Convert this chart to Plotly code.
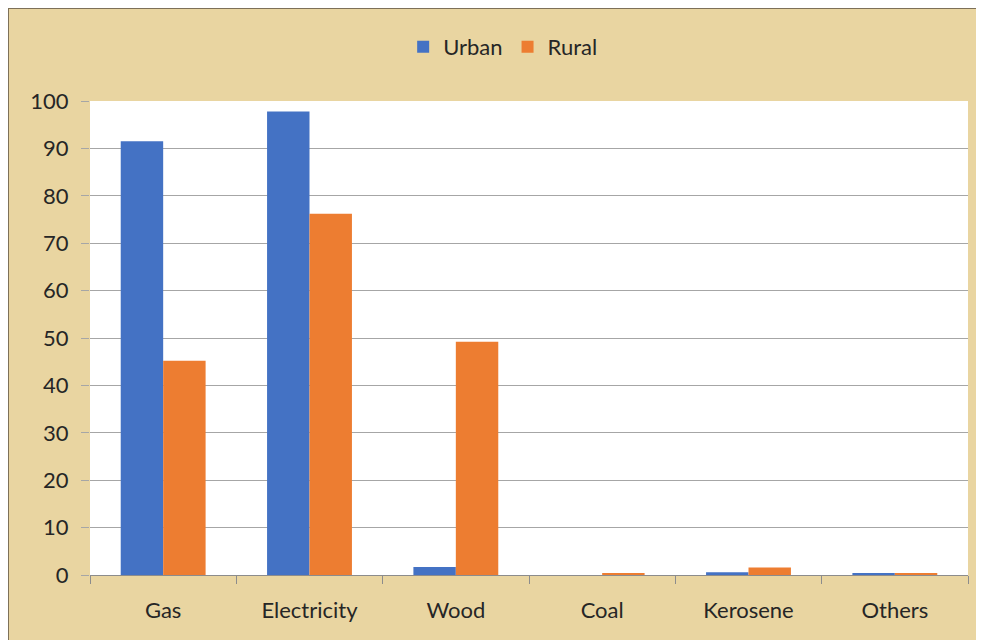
import plotly.graph_objects as go

categories = ['Gas', 'Electricity', 'Wood', 'Coal', 'Kerosene', 'Others']
urban = [91.5, 97.8, 1.7, 0.0, 0.6, 0.3]
rural = [45.2, 76.2, 49.2, 0.3, 1.6, 0.3]

FONT = dict(family='Lato, Open Sans, sans-serif', size=22, color='#262626')

fig = go.Figure()

fig.add_trace(go.Bar(
    name='Urban',
    x=categories,
    y=urban,
    marker_color='#4472C4',
    marker_line_width=0
))

fig.add_trace(go.Bar(
    name='Rural',
    x=categories,
    y=rural,
    marker_color='#ED7D31',
    marker_line_width=0
))

# thin frame along top and left edge of the card
fig.add_shape(type='line', xref='paper', yref='paper',
              x0=-0.0934, x1=1.03, y0=1.196, y1=1.196,
              line=dict(color='#7d7058', width=2))
fig.add_shape(type='line', xref='paper', yref='paper',
              x0=-0.0934, x1=-0.0934, y0=-0.16, y1=1.196,
              line=dict(color='#7d7058', width=2))

fig.update_layout(
    width=984,
    height=640,
    barmode='group',
    bargap=0.42,
    bargroupgap=0,
    paper_bgcolor='#e9d5a1',
    plot_bgcolor='white',
    font=FONT,
    margin=dict(l=82, r=24, t=93, b=73, autoexpand=False),
    showlegend=True,
    legend=dict(
        orientation='h',
        x=0.47, xanchor='center',
        y=1.114, yanchor='middle',
        bgcolor='rgba(0,0,0,0)',
        font=FONT,
        itemwidth=30
    ),
    xaxis=dict(
        showline=True,
        linecolor='#8c8c8c',
        linewidth=1,
        ticks='outside',
        tickson='boundaries',
        ticklen=8,
        tickcolor='#8c8c8c',
        showgrid=False,
        tickfont=FONT,
        ticklabelstandoff=16
    ),
    yaxis=dict(
        range=[0, 100],
        dtick=10,
        showgrid=True,
        gridcolor='#a6a6a6',
        gridwidth=1,
        ticks='outside',
        ticklen=8,
        tickcolor='#a6a6a6',
        showline=False,
        zeroline=False,
        tickfont=FONT,
        ticklabelstandoff=8
    )
)

fig.write_html("out.html")
